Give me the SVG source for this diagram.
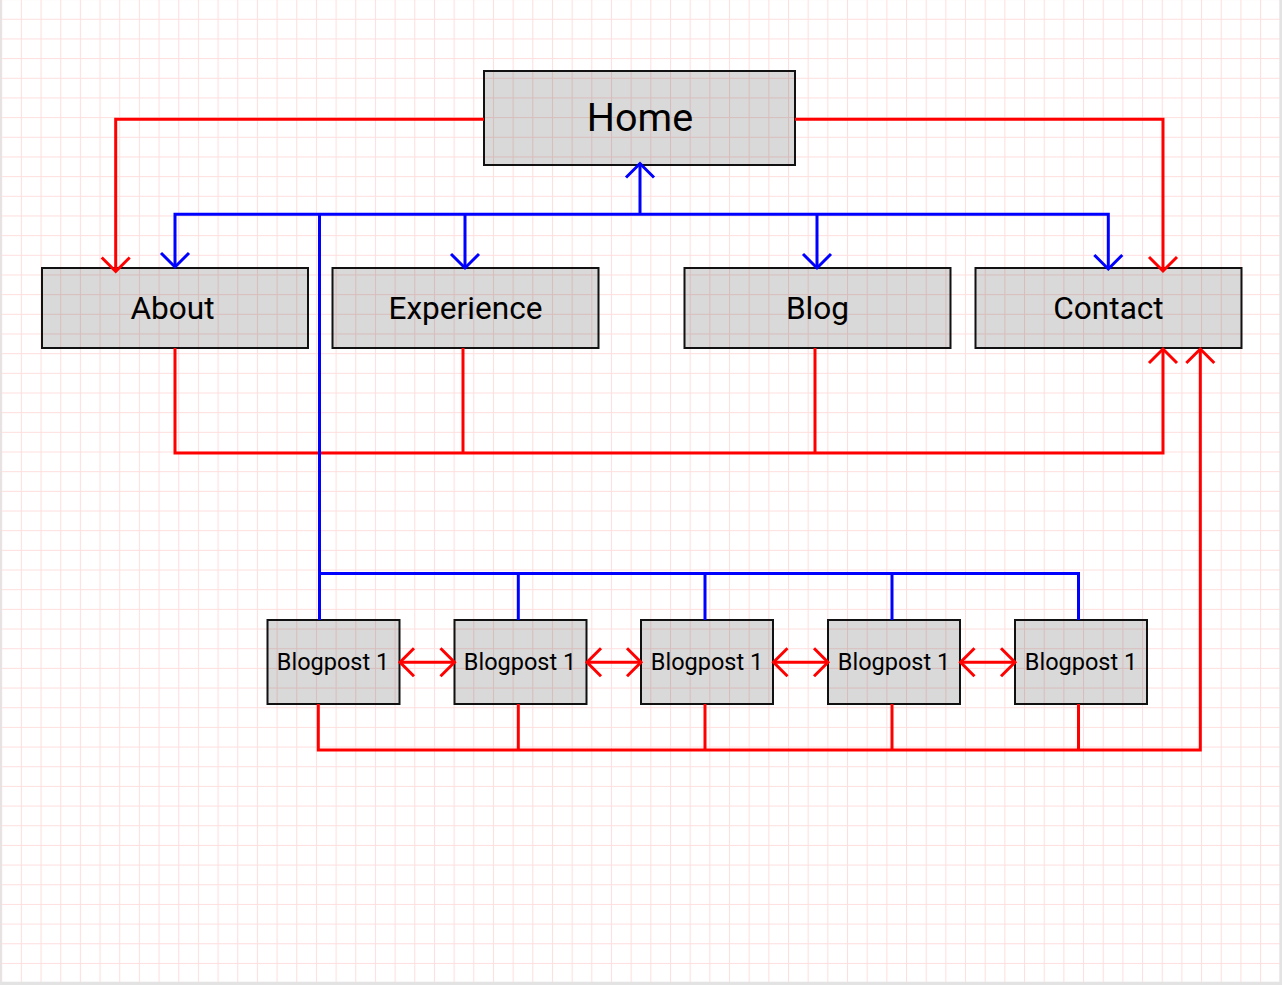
<svg xmlns="http://www.w3.org/2000/svg" width="1282" height="985" viewBox="0 0 1282 985">
<style>
.box{fill:#000;fill-opacity:0.15;stroke:#111;stroke-width:2}
.lbl{font-family:Roboto,"Liberation Sans",sans-serif;fill:#000;text-anchor:middle}
.big{font-size:31.6px}
.home{font-size:39.5px}
.small{font-size:23.5px}
.r{fill:none;stroke:#ff0000;stroke-width:3;stroke-linejoin:miter}
.b{fill:none;stroke:#0000ff;stroke-width:3;stroke-linejoin:miter}
</style>
<defs>
<pattern id="grid" patternUnits="userSpaceOnUse" x="1.2" y="-0.9" width="19.67" height="19.67">
<path d="M0.5 0 V19.67 M0 0.5 H19.67" stroke="#ff0000" stroke-opacity="0.13" stroke-width="1" fill="none"/>
</pattern>
<marker id="ar" markerUnits="userSpaceOnUse" orient="auto-start-reverse" refX="0" refY="0" markerWidth="40" markerHeight="40" viewBox="-20 -20 40 40" overflow="visible">
<path d="M-14,-14 L0,0 L-14,14" fill="none" stroke="#ff0000" stroke-width="3"/>
</marker>
<marker id="ab" markerUnits="userSpaceOnUse" orient="auto-start-reverse" refX="0" refY="0" markerWidth="40" markerHeight="40" viewBox="-20 -20 40 40" overflow="visible">
<path d="M-14,-14 L0,0 L-14,14" fill="none" stroke="#0000ff" stroke-width="3"/>
</marker>
</defs>
<rect x="0" y="0" width="1282" height="985" fill="#ffffff"/>
<rect x="0" y="0" width="1282" height="985" fill="url(#grid)"/>
<rect x="0" y="0" width="1.7" height="985" fill="#e3e3e3"/>
<rect x="1279.4" y="0" width="2.6" height="985" fill="#e3e3e3"/>
<rect x="0" y="981.7" width="1282" height="3.3" fill="#e3e3e3"/>

<g id="home"><rect class="box" x="484" y="71" width="311" height="94"/><text class="lbl home" x="640" y="131">Home</text></g>
<g id="about"><rect class="box" x="42" y="268" width="266" height="80"/><text class="lbl big" x="172.5" y="318.5">About</text></g>
<g id="experience"><rect class="box" x="332.5" y="268" width="266" height="80"/><text class="lbl big" x="465.5" y="318.5">Experience</text></g>
<g id="blog"><rect class="box" x="684.5" y="268" width="266" height="80"/><text class="lbl big" x="817.5" y="318.5">Blog</text></g>
<g id="contact"><rect class="box" x="975.5" y="268" width="266" height="80"/><text class="lbl big" x="1108.5" y="318.5">Contact</text></g>
<g id="blogpost1"><rect class="box" x="267.5" y="620" width="132" height="84"/><text class="lbl small" x="333" y="670">Blogpost 1</text></g>
<g id="blogpost2"><rect class="box" x="454.5" y="620" width="132" height="84"/><text class="lbl small" x="520" y="670">Blogpost 1</text></g>
<g id="blogpost3"><rect class="box" x="641" y="620" width="132" height="84"/><text class="lbl small" x="707" y="670">Blogpost 1</text></g>
<g id="blogpost4"><rect class="box" x="828" y="620" width="132" height="84"/><text class="lbl small" x="894" y="670">Blogpost 1</text></g>
<g id="blogpost5"><rect class="box" x="1015" y="620" width="132" height="84"/><text class="lbl small" x="1081" y="670">Blogpost 1</text></g>

<g id="connectors">
<path class="r" d="M484,119.3 H115.7 V271.5" marker-end="url(#ar)"/>
<path class="r" d="M795,119.3 H1163 V271" marker-end="url(#ar)"/>
<path class="r" d="M175,348 V453 H1163 V349" marker-end="url(#ar)"/>
<path class="r" d="M463,348 V453"/>
<path class="r" d="M815,348 V453"/>
<path class="r" d="M318.3,704 V750 H1200.3 V349" marker-end="url(#ar)"/>
<path class="r" d="M518.3,704 V750"/>
<path class="r" d="M705,704 V750"/>
<path class="r" d="M892,704 V750"/>
<path class="r" d="M1078.5,704 V750"/>
<path class="r" d="M400,662.3 H454.5" marker-start="url(#ar)" marker-end="url(#ar)"/>
<path class="r" d="M587,662.3 H641" marker-start="url(#ar)" marker-end="url(#ar)"/>
<path class="r" d="M773.5,662.3 H828" marker-start="url(#ar)" marker-end="url(#ar)"/>
<path class="r" d="M960.5,662.3 H1015" marker-start="url(#ar)" marker-end="url(#ar)"/>
<path class="b" d="M640,214.3 V163.5" marker-end="url(#ab)"/>
<path class="b" d="M175,267 V214.3 H1108.3 V269" marker-end="url(#ab)" marker-start="url(#ab)"/>
<path class="b" d="M465,214.3 V268" marker-end="url(#ab)"/>
<path class="b" d="M817,214.3 V268" marker-end="url(#ab)"/>
<path class="b" d="M319.5,214.3 V620"/>
<path class="b" d="M319.5,573.5 H1078.5 V620"/>
<path class="b" d="M518.3,573.5 V620"/>
<path class="b" d="M705,573.5 V620"/>
<path class="b" d="M892,573.5 V620"/>
</g>
</svg>
